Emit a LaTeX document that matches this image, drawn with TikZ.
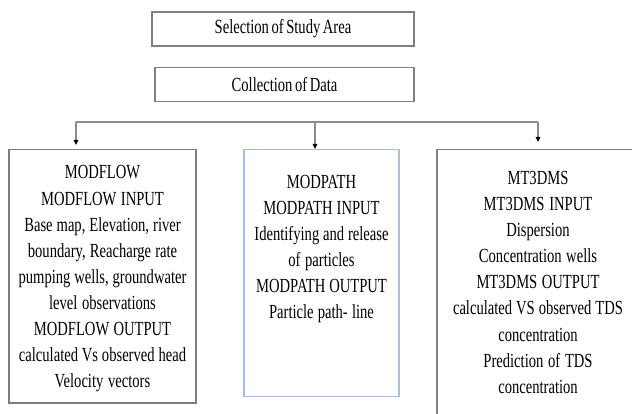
\documentclass[tikz,border=0pt]{standalone}
\usepackage{fontspec}
\setmainfont[FakeStretch=0.73, WordSpace=0.7]{Liberation Serif}
\usetikzlibrary{arrows.meta}
\definecolor{framegray}{HTML}{7F7F7F}
\definecolor{linegray}{HTML}{8C8C8C}
\definecolor{paneblue}{HTML}{A9BEDF}
\newcommand\narrowspaces{\spaceskip=3.6pt plus 1pt minus 0.5pt\relax}
\tikzset{
  box/.style={draw=framegray, line width=1.5pt, align=center, font=\fontsize{20}{26}\selectfont},
  ktitle/.style={box, minimum height=34pt},
  kpanel/.style={box, anchor=north},
  kmodpath/.style={kpanel, draw=paneblue, line width=1.2pt},
  ktext/.style={anchor=base, align=center, inner sep=0pt, font=\fontsize{20}{26.1}\selectfont, execute at begin node=\narrowspaces},
  bus/.style={draw=linegray, line width=1.2pt},
  flow/.style={bus, -{Triangle[length=5pt, width=4.5pt, color=black]}},
}

\begin{document}
\begin{tikzpicture}[x=1pt, y=-1pt]
    \useasboundingbox (0,0) rectangle (632,414);
    \clip (0,0) rectangle (632,414);
    \node[ktitle, minimum width=262pt] (area) at (283,29) {Selection of Study Area};
    \node[ktitle, minimum width=259pt] (data) at (284.5,84.5) {Collection of Data};
    \node[kpanel, minimum width=187pt, minimum height=253pt] (modflow) at (102.5,149) {};
    \node[kmodpath, minimum width=155pt, minimum height=247pt] (modpath) at (321.5,149) {};
    \node[kpanel, minimum width=202pt, minimum height=280pt] (mt3dms) at (538,149) {};
    \node[ktext, text width=185pt] (modflowtxt) at (102.5,179) {MODFLOW\\ MODFLOW INPUT\\ Base map, Elevation, river\\ boundary, Reacharge rate\\ pumping wells, groundwater\\ level observations\\ MODFLOW OUTPUT\\ calculated Vs observed head\\ Velocity vectors};
    \node[ktext, text width=153pt] (modpathtxt) at (321.5,188.5) {MODPATH\\ MODPATH INPUT\\ Identifying and release\\ of particles\\ MODPATH OUTPUT\\ Particle path- line};
    \node[ktext, text width=198pt] (mt3dmstxt) at (538,184.5) {MT3DMS\\ MT3DMS INPUT\\ Dispersion\\ Concentration wells\\ MT3DMS OUTPUT\\ calculated VS observed TDS\\ concentration\\ Prediction of TDS\\ concentration};
    \coordinate (busl) at (76,122);
    \coordinate (busm) at (315,122);
    \coordinate (busr) at (538,122);
    \draw[bus] (busl) -- (busr);
    \draw[flow, shorten >=4pt] (busl) -- (busl |- modflow.north);
    \draw[flow] (busm) -- (busm |- modpath.north);
    \draw[flow, shorten >=7pt] (busr) -- (busr |- mt3dms.north);
  \end{tikzpicture}
\end{document}
